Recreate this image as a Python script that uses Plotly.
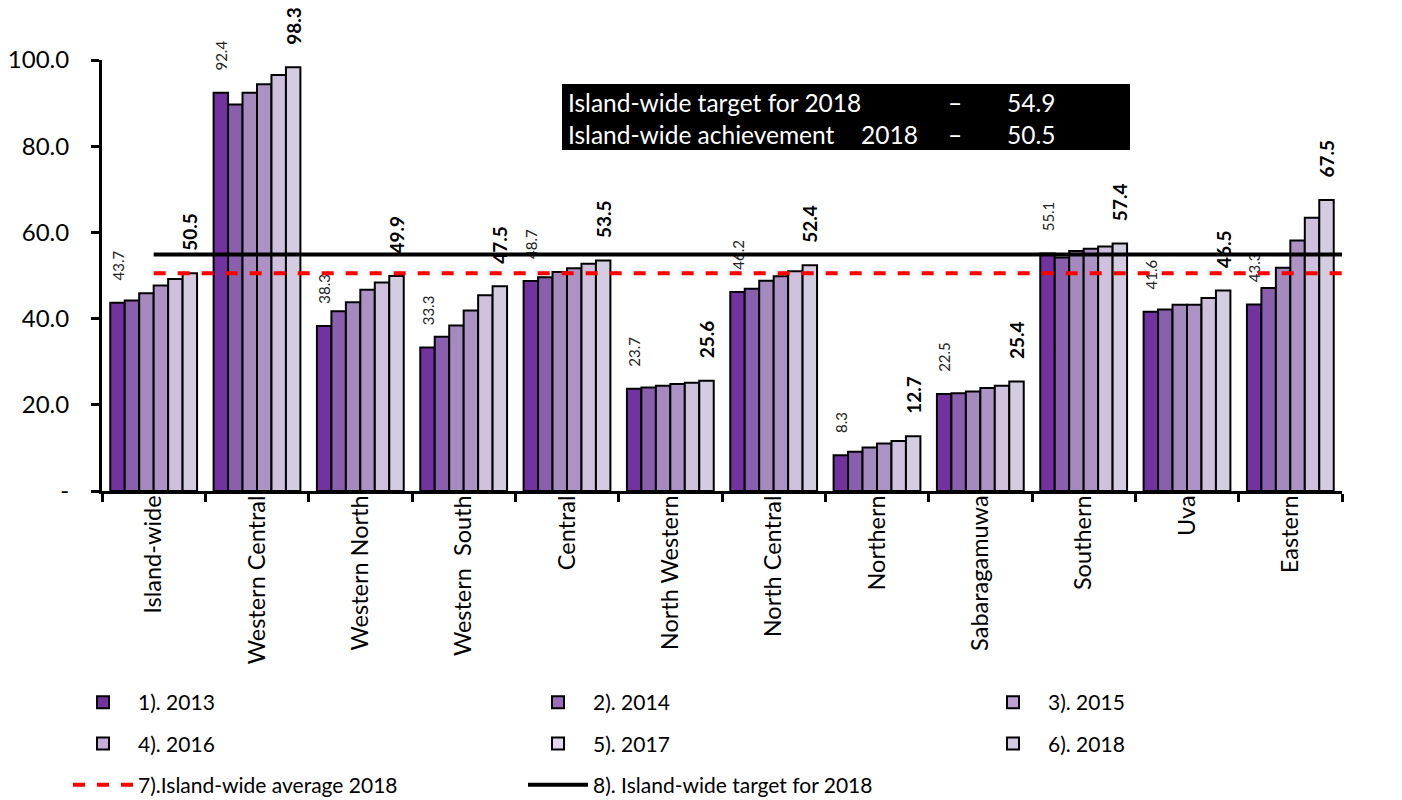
import plotly.graph_objects as go

regions = ["Island-wide", "Western Central", "Western North", "Western  South", "Central",
           "North Western", "North Central", "Northern", "Sabaragamuwa", "Southern", "Uva", "Eastern"]

years = ["1). 2013", "2). 2014", "3). 2015", "4). 2016", "5). 2017", "6). 2018"]

v2013 = [43.7, 92.4, 38.3, 33.3, 48.7, 23.7, 46.2, 8.3, 22.5, 55.1, 41.6, 43.3]
v2014 = [44.2, 89.7, 41.7, 35.8, 49.6, 24.0, 46.9, 9.1, 22.7, 54.2, 42.1, 47.1]
v2015 = [45.9, 92.4, 43.8, 38.4, 50.8, 24.4, 48.8, 10.1, 23.1, 55.7, 43.2, 51.8]
v2016 = [47.7, 94.4, 46.7, 41.9, 51.7, 24.8, 49.8, 11.0, 23.9, 56.2, 43.2, 58.1]
v2017 = [49.2, 96.5, 48.4, 45.4, 52.7, 25.1, 51.0, 11.6, 24.4, 56.7, 44.8, 63.4]
v2018 = [50.5, 98.3, 49.9, 47.5, 53.5, 25.6, 52.4, 12.7, 25.4, 57.4, 46.5, 67.5]

avg_2018 = 50.5
target_2018 = 54.9

series = [v2013, v2014, v2015, v2016, v2017, v2018]
colors = ["#7233A0", "#8A5FAD", "#A58ABF", "#AD93C5", "#CFC0DD", "#D4CCE1"]
legend_colors = ["#7233A0", "#9A6DBB", "#BFA0D5", "#C9AEDB", "#E2D5EE", "#D3CBE0"]
# legend column for each year (3 columns, filled row by row)
legend_cols = ["legend", "legend2", "legend3", "legend", "legend2", "legend3"]

FONT = "Lato"

# the page body has an 8px margin, so the figure is drawn 8px smaller
PAGE_OFF = 8
PLOT_L, PLOT_R, PLOT_T, PLOT_B = 102, 1342, 60, 491   # page pixels
PW, PH = PLOT_R - PLOT_L, PLOT_B - PLOT_T


def px(xpage):
    return (xpage - PLOT_L) / PW


def py(ypage):
    return (PLOT_B - ypage) / PH


fig = go.Figure()

for i, (name, vals) in enumerate(zip(years, series)):
    if i == 0:
        text = ["     " + f"{v:.1f}" for v in vals]
        tfont = dict(family=FONT, size=15, color="#222")
    elif i == 5:
        text = ["    " + f"<b>{v:.1f}</b>" for v in vals]
        tfont = dict(family=FONT, size=19, color="black")
    else:
        text = None
        tfont = None
    fig.add_trace(go.Bar(
        x=regions, y=vals, name=name,
        marker=dict(color=colors[i], line=dict(color="black", width=2)),
        text=text, textposition="outside", textangle=-90, textfont=tfont,
        constraintext="none", cliponaxis=False,
        showlegend=False,
    ))

# legend entries (on the hidden overlay axis so they don't take bar slots)
for i, name in enumerate(years):
    fig.add_trace(go.Bar(
        x=[None], y=[None], name=name, xaxis="x2",
        marker=dict(color=legend_colors[i], line=dict(color="black", width=2)),
        legend=legend_cols[i], legendgroup=name,
    ))

n = len(regions)
fig.add_trace(go.Scatter(
    x=[0, n - 0.5], y=[avg_2018, avg_2018], mode="lines", xaxis="x2",
    line=dict(color="#FF0000", width=4, dash="dash"),
    name="7).Island-wide average 2018", legend="legend", legendgroup="avg",
))
fig.add_trace(go.Scatter(
    x=[0, n - 0.5], y=[target_2018, target_2018], mode="lines", xaxis="x2",
    line=dict(color="black", width=4),
    name="8). Island-wide target for 2018", legend="legend2", legendgroup="target",
))

leg_common = dict(orientation="v", xanchor="left", yanchor="top",
                  y=py(682),
                  font=dict(family=FONT, size=21, color="black"),
                  itemwidth=60, tracegroupgap=11, bgcolor="rgba(0,0,0,0)",
                  traceorder="grouped")

# info box
fig.add_shape(type="rect", xref="paper", yref="paper",
              x0=px(562), x1=px(1130), y0=py(150), y1=py(84),
              fillcolor="black", line=dict(width=0), layer="above")
box_font = dict(family=FONT, size=24.5, color="white")
rows = [("Island-wide target for 2018", "", "–", f"{target_2018:.1f}", 102),
        ("Island-wide achievement", "2018", "–", f"{avg_2018:.1f}", 134)]
for left, mid, dash, num, ypx in rows:
    for txt, xpx in [(left, 566), (mid, 859), (dash, 946), (num, 1005)]:
        if not txt:
            continue
        fig.add_annotation(text=txt, xref="paper", yref="paper",
                           x=px(xpx), y=py(ypx),
                           xanchor="left", yanchor="middle", showarrow=False,
                           font=box_font)

W, H = 1402 - PAGE_OFF, 800 - PAGE_OFF
fig.update_layout(
    width=W, height=H,
    margin=dict(l=PLOT_L - PAGE_OFF, r=W - (PLOT_R - PAGE_OFF),
                t=PLOT_T - PAGE_OFF, b=H - (PLOT_B - PAGE_OFF), autoexpand=False),
    plot_bgcolor="white", paper_bgcolor="white",
    barmode="group", bargap=0.16, bargroupgap=0,
    font=dict(family=FONT, color="black"),
    xaxis=dict(type="category", tickson="boundaries", ticks="outside", ticklen=8,
               tickwidth=3, tickcolor="black", showline=True, linecolor="black",
               linewidth=3, tickangle=-90, tickfont=dict(family=FONT, size=23.5),
               ticklabelstandoff=-8,
               showgrid=False, range=[-0.5, n - 0.5], automargin=False),
    xaxis2=dict(overlaying="x", range=[-0.5, n - 0.5], visible=False),
    yaxis=dict(range=[0, 100], tickvals=[0, 20, 40, 60, 80, 100],
               ticktext=["-", "20.0", "40.0", "60.0", "80.0", "100.0"],
               ticks="outside", ticklen=8, tickwidth=3, tickcolor="black",
               showline=True, linecolor="black", linewidth=3, showgrid=False,
               zeroline=False, tickfont=dict(family=FONT, size=24),
               ticklabelstandoff=17, automargin=False),
    legend=dict(x=px(68), **leg_common),
    legend2=dict(x=px(523), **leg_common),
    legend3=dict(x=px(978), **leg_common),
)

fig.write_html("out.html")
